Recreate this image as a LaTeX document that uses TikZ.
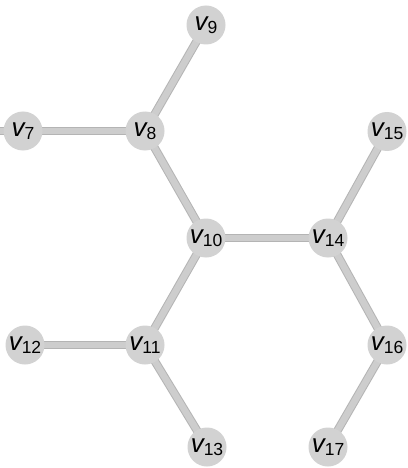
\documentclass[tikz,border=0pt]{standalone}
\usepackage{fontspec}
\setmainfont{Liberation Sans}
\usetikzlibrary{backgrounds}
\definecolor{nodegray}{HTML}{D2D2D2}
\definecolor{edgefill}{HTML}{CDCDCD}
\definecolor{edgeline}{HTML}{B4B4B4}
\newcommand{\vlab}[1]{{\fontsize{26}{26}\selectfont\itshape v}\raisebox{-3.4pt}{\fontsize{17.5}{17.5}\selectfont #1}}
\tikzset{
  vert/.style={circle, fill=nodegray, draw=none, minimum size=39pt, inner sep=0pt},
  vtext/.style={inner sep=0pt, text=black},
  edge/.style={draw=edgeline, line width=1pt, double=edgefill, double distance=6.5pt}
}
\begin{document}
\begin{tikzpicture}[x=1pt, y=-1pt]
\useasboundingbox (0,0) rectangle (407,468);
\node[vert] (v9) at (206,25) {};
\node[vert] (v7) at (23,131) {};
\node[vert] (v8) at (145,131) {};
\node[vert] (v15) at (387,131.5) {};
\node[vert] (v10) at (206,238) {};
\node[vert] (v14) at (328,238) {};
\node[vert] (v12) at (25,345) {};
\node[vert] (v11) at (145,345) {};
\node[vert] (v16) at (387,345) {};
\node[vert] (v13) at (207,447) {};
\node[vert] (v17) at (328,447) {};
\coordinate (stub) at (-40,131);
\begin{scope}[on background layer]
\fill[white] (0,0) rectangle (407,468);
\draw[edge] (stub) -- (v7.center);
\draw[edge] (v7.center) -- (v8.center);
\draw[edge] (v8.center) -- (v9.center);
\draw[edge] (v8.center) -- (v10.center);
\draw[edge] (v10.center) -- (v14.center);
\draw[edge] (v10.center) -- (v11.center);
\draw[edge] (v11.center) -- (v12.center);
\draw[edge] (v11.center) -- (v13.center);
\draw[edge] (v14.center) -- (v15.center);
\draw[edge] (v14.center) -- (v16.center);
\draw[edge] (v16.center) -- (v17.center);
\end{scope}
\node[vtext] (t9) at (v9.center) {\vlab{9}};
\node[vtext] (t7) at (v7.center) {\vlab{7}};
\node[vtext] (t8) at (v8.center) {\vlab{8}};
\node[vtext] (t15) at (v15.center) {\vlab{15}};
\node[vtext] (t10) at (v10.center) {\vlab{10}};
\node[vtext] (t14) at (v14.center) {\vlab{14}};
\node[vtext] (t12) at (v12.center) {\vlab{12}};
\node[vtext] (t11) at (v11.center) {\vlab{11}};
\node[vtext] (t16) at (v16.center) {\vlab{16}};
\node[vtext] (t13) at (v13.center) {\vlab{13}};
\node[vtext] (t17) at (v17.center) {\vlab{17}};
\end{tikzpicture}
\end{document}
